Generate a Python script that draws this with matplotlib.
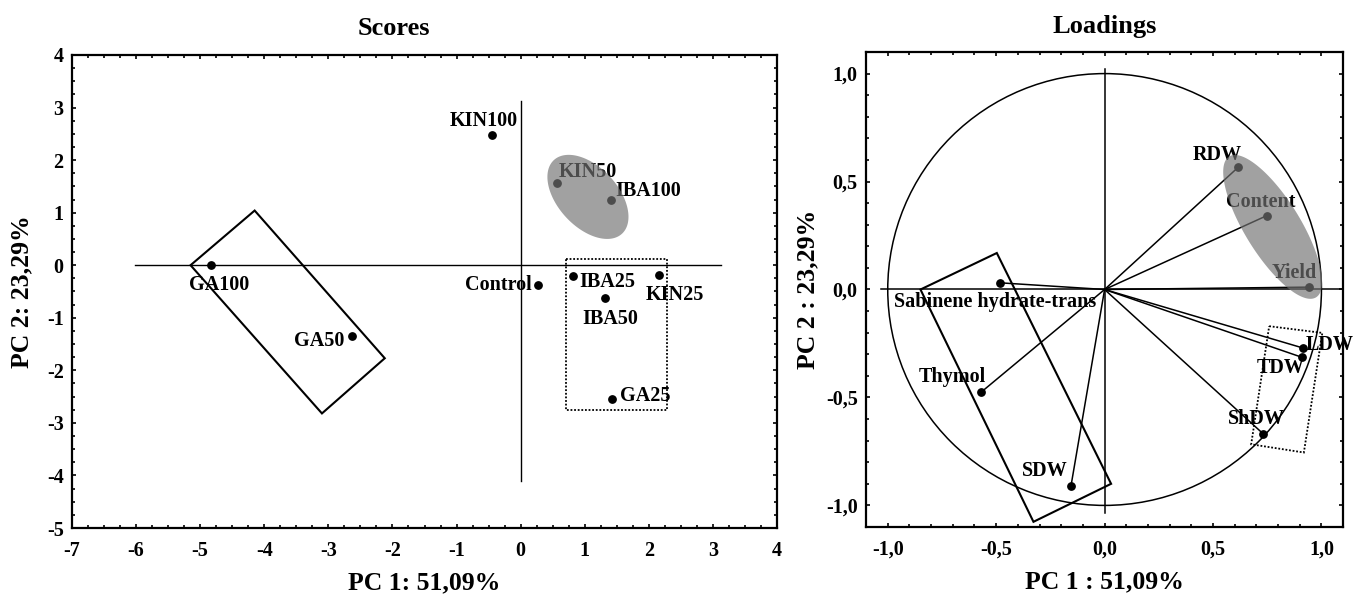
import numpy as np
import matplotlib
matplotlib.use('Agg')
import matplotlib.pyplot as plt
from matplotlib.ticker import MultipleLocator, FuncFormatter
from matplotlib.patches import Polygon, Circle

plt.rcParams['font.family'] = ['Liberation Serif', 'DejaVu Serif']
plt.rcParams['font.weight'] = 'bold'
plt.rcParams['axes.labelweight'] = 'bold'

# PCA scores of the treatments
score_names = ['KIN100', 'KIN50', 'IBA100', 'GA100', 'GA50', 'Control',
               'IBA25', 'KIN25', 'IBA50', 'GA25']
score_pc1 = [-0.44, 0.57, 1.41, -4.83, -2.63, 0.27, 0.82, 2.16, 1.31, 1.43]
score_pc2 = [2.47, 1.57, 1.24, 0.00, -1.35, -0.38, -0.20, -0.18, -0.63, -2.55]

# PCA loadings of the measured variables
load_names = ['RDW', 'Content', 'Yield', 'Sabinene hydrate-trans', 'Thymol',
              'SDW', 'LDW', 'TDW', 'ShDW']
load_pc1 = [0.616, 0.748, 0.944, -0.483, -0.571, -0.155, 0.915, 0.910, 0.732]
load_pc2 = [0.566, 0.342, 0.011, 0.031, -0.477, -0.910, -0.271, -0.314, -0.669]

# label offsets in pixels (dx, dy, ha)
score_offsets = {
    'KIN100': (-9, 14, 'center'), 'KIN50': (2, 11, 'left'),
    'IBA100': (4, 9, 'left'), 'GA100': (8, -20, 'center'),
    'Control': (-6, 0, 'right'), 'IBA25': (6, -6, 'left'),
    'KIN25': (-13, -20, 'left'), 'IBA50': (6, -21, 'center'),
    'GA50': (-8, -5, 'right'), 'GA25': (8, 3, 'left'),
}
load_offsets = {
    'RDW': (-21, 12, 'center'), 'Content': (-6, 14, 'center'),
    'Yield': (-15, 14, 'center'), 'Sabinene hydrate-trans': (-5, -19, 'center'),
    'Thymol': (-28, 15, 'center'), 'SDW': (-26, 15, 'center'),
    'LDW': (3, 3, 'left'), 'TDW': (-21, -11, 'center'),
    'ShDW': (-7, 15, 'center'),
}

GRAY_FILL = '#737373'


def ellipse_patch(center, cov, **kw):
    # ellipse outline from a 2x2 shape matrix (works with unequal axis scales)
    L = np.linalg.cholesky(np.array(cov))
    t = np.linspace(0, 2 * np.pi, 200)
    pts = np.array(center)[:, None] + L @ np.vstack([np.cos(t), np.sin(t)])
    return Polygon(pts.T, closed=True, **kw)


def style_axes(ax, minor, fmt):
    ax.xaxis.set_minor_locator(MultipleLocator(minor))
    ax.yaxis.set_minor_locator(MultipleLocator(minor))
    ax.xaxis.set_major_formatter(FuncFormatter(fmt))
    ax.yaxis.set_major_formatter(FuncFormatter(fmt))
    ax.tick_params(which='both', direction='in', top=True, right=True,
                   width=1.2, labelsize=14.5)
    ax.tick_params(which='major', length=3)
    ax.tick_params(which='minor', length=2)
    ax.tick_params(axis='x', pad=9)
    ax.tick_params(axis='y', pad=6)
    for s in ax.spines.values():
        s.set_linewidth(1.6)


fig = plt.figure(figsize=(13.53, 5.95), dpi=100)

# ---- Scores ----
ax1 = fig.add_axes([0.0532, 0.1126, 0.5211, 0.7950])
ax1.set_xlim(-7, 4)
ax1.set_ylim(-5, 4)
ax1.set_xticks(range(-7, 5))
ax1.set_yticks(range(-5, 5))
style_axes(ax1, 0.25, lambda v, p: f'{v:.0f}')

ax1.plot([-6.02, 3.13], [0, 0], color='black', lw=1.0, zorder=1)
ax1.plot([0, 0], [-4.1, 3.13], color='black', lw=1.0, zorder=1)

ax1.add_patch(Polygon([(-5.15, 0.0), (-4.15, 1.04), (-2.12, -1.77), (-3.1, -2.82)],
                      closed=True, fill=False, ec='black', lw=1.5, zorder=2))
ax1.add_patch(Polygon([(0.70, 0.115), (2.28, 0.115), (2.28, -2.76), (0.70, -2.76)],
                      closed=True, fill=False, ec='black', lw=1.3,
                      ls=(0, (1, 1)), zorder=2))

ax1.scatter(score_pc1, score_pc2, s=28, color='black', zorder=3)
for name, x, y in zip(score_names, score_pc1, score_pc2):
    dx, dy, ha = score_offsets[name]
    ax1.annotate(name, (x, y), xytext=(dx, dy), textcoords='offset pixels',
                 ha=ha, va='center', fontsize=14.5, zorder=3)

ax1.add_patch(ellipse_patch((1.05, 1.30), [[0.40, -0.24], [-0.24, 0.64]],
                            fc=GRAY_FILL, ec='none', alpha=0.67, zorder=5))

ax1.text(0.457, 1.057, 'Scores', transform=ax1.transAxes, ha='center',
         va='center', fontsize=19)
ax1.set_xlabel('PC 1: 51,09%', fontsize=18.5, va='center')
ax1.xaxis.set_label_coords(0.5, -0.116)
ax1.set_ylabel('PC 2: 23,29%', fontsize=18.5, va='center')
ax1.yaxis.set_label_coords(-0.071, 0.5)

# ---- Loadings ----
ax2 = fig.add_axes([0.6401, 0.1143, 0.3526, 0.7983])
ax2.set_xlim(-1.1, 1.1)
ax2.set_ylim(-1.1, 1.1)
ticks = [-1.0, -0.5, 0.0, 0.5, 1.0]
ax2.set_xticks(ticks)
ax2.set_yticks(ticks)
style_axes(ax2, 0.1, lambda v, p: f'{v:.1f}'.replace('.', ','))

ax2.add_patch(Circle((0, 0), 1.0, fill=False, ec='black', lw=1.1, zorder=1))
ax2.plot([-1.03, 1.1], [0, 0], color='black', lw=1.1, zorder=1)
ax2.plot([0, 0], [-1.034, 1.02], color='black', lw=1.1, zorder=1)

for x, y in zip(load_pc1, load_pc2):
    ax2.plot([0, x], [0, y], color='black', lw=1.1, zorder=2)

ax2.add_patch(Polygon([(-0.849, 0.0), (-0.497, 0.169), (0.03, -0.90), (-0.328, -1.076)],
                      closed=True, fill=False, ec='black', lw=1.5, zorder=2))
ax2.add_patch(Polygon([(0.759, -0.17), (1.004, -0.201), (0.919, -0.755), (0.676, -0.717)],
                      closed=True, fill=False, ec='black', lw=1.3,
                      ls=(0, (1, 1)), zorder=2))

ax2.scatter(load_pc1, load_pc2, s=28, color='black', zorder=3)
for name, x, y in zip(load_names, load_pc1, load_pc2):
    dx, dy, ha = load_offsets[name]
    ax2.annotate(name, (x, y), xytext=(dx, dy), textcoords='offset pixels',
                 ha=ha, va='center', fontsize=14.5, zorder=3,
                 annotation_clip=False)

ax2.add_patch(ellipse_patch((0.775, 0.29), [[0.052, -0.058], [-0.058, 0.111]],
                            fc=GRAY_FILL, ec='none', alpha=0.67, zorder=5))

ax2.text(0.5, 1.053, 'Loadings', transform=ax2.transAxes, ha='center',
         va='center', fontsize=19)
ax2.set_xlabel('PC 1 : 51,09%', fontsize=18.5, va='center')
ax2.xaxis.set_label_coords(0.5, -0.116)
ax2.set_ylabel('PC 2 : 23,29%', fontsize=18.5, va='center')
ax2.yaxis.set_label_coords(-0.122, 0.5)

fig.savefig('out.png', dpi=100)
